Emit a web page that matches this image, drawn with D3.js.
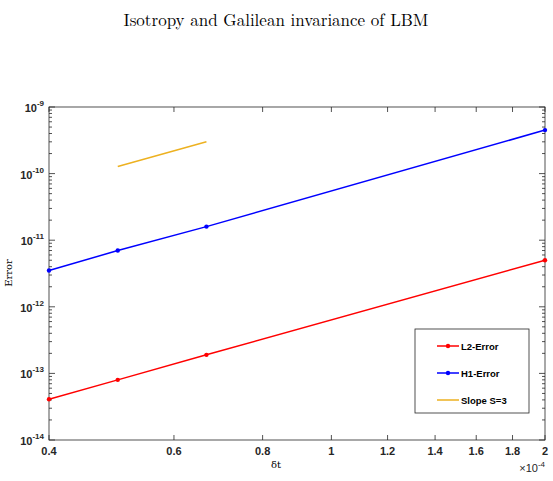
<!DOCTYPE html>
<html><head><meta charset="utf-8">
<script src="https://cdn.jsdelivr.net/npm/d3@7"></script>
<style>body{margin:0;background:#fff}text{font-family:Helvetica,"Liberation Sans",Arial,sans-serif}</style>
</head><body><svg id="c" width="553" height="481"></svg>
<script>
'use strict';
var dt = [0.4, 0.5, 0.6667, 2];
var l2 = [4.1e-14, 8e-14, 1.9e-13, 5e-12];
var h1 = [3.5e-12, 7e-12, 1.6e-11, 4.5e-10];
var slopeX = [0.5, 0.6667];
var slopeY = [1.28e-10, 3e-10];
var xTicks = [0.4, 0.6, 0.8, 1, 1.2, 1.4, 1.6, 1.8, 2];
var yExp = [-14, -13, -12, -11, -10, -9];

var svg = d3.select('#c');
var L = 49, R = 545, T = 107, B = 440;
var x = d3.scaleLog().domain([0.4, 2]).range([L, R]);
var y = d3.scaleLog().domain([1e-14, 1e-9]).range([B, T]);

svg.append('text').attr('x', 276).attr('y', 26).attr('text-anchor', 'middle')
  .style('font-family', '"Latin Modern Roman","DejaVu Serif","Liberation Serif",serif')
  .style('font-size', '17px').text('Isotropy and Galilean invariance of LBM');

svg.append('rect').attr('x', L).attr('y', T).attr('width', R - L).attr('height', B - T)
  .attr('fill', 'none').attr('stroke', '#262626').attr('stroke-width', 0.8);

var minor = [];
yExp.slice(0, -1).forEach(function(e) {
  for (var k = 2; k < 10; k++) minor.push(k * Math.pow(10, e));
});
var g = svg.append('g').attr('stroke', '#262626').attr('stroke-width', 0.8);
minor.forEach(function(v) {
  g.append('line').attr('x1', L).attr('x2', L + 3).attr('y1', y(v)).attr('y2', y(v));
  g.append('line').attr('x1', R).attr('x2', R - 3).attr('y1', y(v)).attr('y2', y(v));
});
yExp.forEach(function(e) {
  var v = Math.pow(10, e);
  g.append('line').attr('x1', L).attr('x2', L + 6).attr('y1', y(v)).attr('y2', y(v));
  g.append('line').attr('x1', R).attr('x2', R - 6).attr('y1', y(v)).attr('y2', y(v));
  var t = svg.append('text').attr('x', L - 5).attr('y', y(v) + 5).attr('text-anchor', 'end')
    .style('font-size', '11px').style('font-weight', 'bold').attr('fill', '#262626');
  t.append('tspan').text('10');
  t.append('tspan').attr('dy', -6).style('font-size', '8px').text(e);
});
xTicks.forEach(function(v) {
  g.append('line').attr('x1', x(v)).attr('x2', x(v)).attr('y1', B).attr('y2', B - 5);
  g.append('line').attr('x1', x(v)).attr('x2', x(v)).attr('y1', T).attr('y2', T + 5);
  svg.append('text').attr('x', x(v)).attr('y', B + 15).attr('text-anchor', 'middle')
    .style('font-size', '11px').style('font-weight', 'bold').attr('fill', '#262626').text(v);
});
var ex = svg.append('text').attr('x', 545).attr('y', 472).attr('text-anchor', 'end')
  .style('font-size', '11px').attr('fill', '#262626');
ex.append('tspan').text('\u00d710');
ex.append('tspan').attr('dy', -5).style('font-size', '8px').text('-4');

svg.append('text').attr('x', 276).attr('y', 468).attr('text-anchor', 'middle')
  .style('font-family', '"DejaVu Serif",serif').style('font-size', '10px').text('\u03b4t');
svg.append('text').attr('transform', 'translate(12,273) rotate(-90)').attr('text-anchor', 'middle')
  .style('font-family', '"DejaVu Serif",serif').style('font-size', '10px').text('Error');

var line = d3.line().x(function(d) { return x(d[0]); }).y(function(d) { return y(d[1]); });
function series(ys, col, xs) {
  var pts = (xs || dt).map(function(v, i) { return [v, ys[i]]; });
  svg.append('path').datum(pts).attr('d', line).attr('fill', 'none').attr('stroke', col).attr('stroke-width', 1.5);
  if (!xs) svg.selectAll(null).data(pts).enter().append('circle')
    .attr('cx', function(d) { return x(d[0]); }).attr('cy', function(d) { return y(d[1]); })
    .attr('r', 2.2).attr('fill', col);
}
series(l2, '#ff0000');
series(h1, '#0000ff');
series(slopeY, '#edb120', slopeX);

var lg = svg.append('g').attr('transform', 'translate(415,329)');
lg.append('rect').attr('width', 114).attr('height', 84).attr('fill', '#fff').attr('stroke', '#262626').attr('stroke-width', 0.8);
[['L2-Error', '#ff0000', true], ['H1-Error', '#0000ff', true], ['Slope S=3', '#edb120', false]].forEach(function(d, i) {
  var yy = 17 + i * 27;
  lg.append('line').attr('x1', 22).attr('x2', 44).attr('y1', yy).attr('y2', yy).attr('stroke', d[1]).attr('stroke-width', 1.5);
  if (d[2]) lg.append('circle').attr('cx', 33).attr('cy', yy).attr('r', 2.2).attr('fill', d[1]);
  lg.append('text').attr('x', 46).attr('y', yy + 4).style('font-size', '9.5px').style('font-weight', 'bold').text(d[0]);
});
</script></body></html>
